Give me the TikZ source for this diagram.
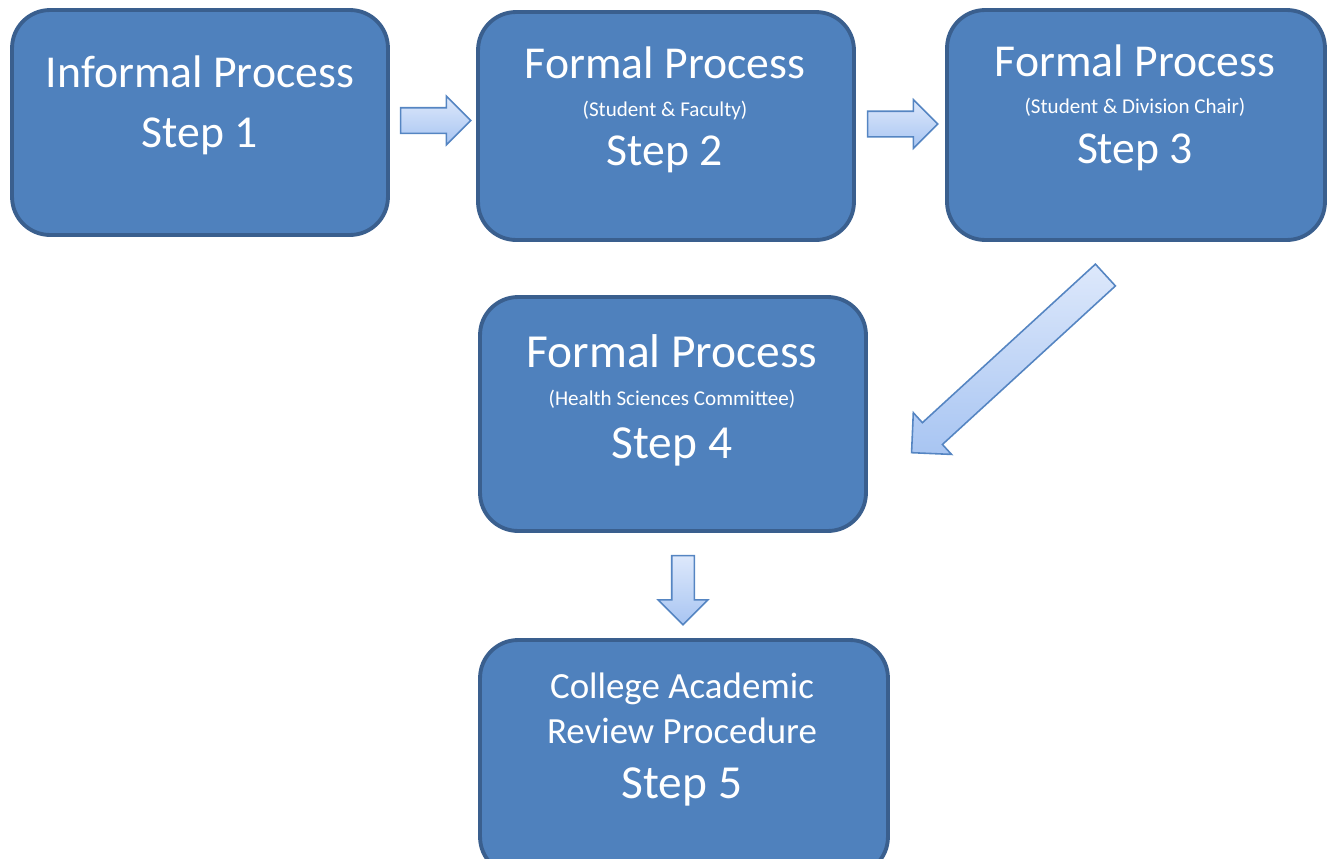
\documentclass[tikz,border=0pt]{standalone}
\usepackage{fontspec}
\setmainfont{Carlito}
\usetikzlibrary{shapes.arrows,positioning,calc}

\definecolor{boxfill}{HTML}{4F81BD}
\definecolor{boxline}{HTML}{3A5F8E}
\definecolor{arrowtop}{HTML}{DDE8FB}
\definecolor{arrowbot}{HTML}{A8C5F2}
\definecolor{arrowline}{HTML}{5585C2}

\tikzset{
  stepbox/.style={draw=boxline,fill=boxfill,line width=2.2pt,
    rounded corners=0.76cm,inner sep=0pt},
  bigtxt/.style={text=white,anchor=base,inner sep=0pt,
    font=\fontsize{26}{31}\selectfont},
  hugetxt/.style={text=white,anchor=base,inner sep=0pt,
    font=\fontsize{27}{32}\selectfont},
  midtxt/.style={text=white,anchor=base,inner sep=0pt,
    font=\fontsize{21}{25}\selectfont},
  smalltxt/.style={text=white,anchor=base,inner sep=0pt,
    font=\fontsize{12}{14}\selectfont},
  blockarrow/.style={single arrow,draw=arrowline,line width=0.9pt,
    top color=arrowtop,bottom color=arrowbot,anchor=tail,
    inner xsep=0pt,minimum width=0pt,single arrow tip angle=90}
}

\begin{document}
\begin{tikzpicture}[x=0.02cm,y=0.02cm]
\useasboundingbox (0,0) rectangle (1330,-859);
% Step 1
\node[stepbox,minimum width=7.52cm,minimum height=4.5cm] (s1) at (200,-122.5) {};
\node[bigtxt] (s1a) at (200,-87) {Informal Process};
\node[bigtxt] (s1b) at (200,-147) {Step 1};
% Step 2
\node[stepbox,minimum width=7.52cm,minimum height=4.56cm] (s2) at (666,-126) {};
\node[bigtxt] (s2a) at (665,-78) {Formal Process};
\node[smalltxt] (s2b) at (665,-116) {(Student \& Faculty)};
\node[bigtxt] (s2c) at (665,-165) {Step 2};
% Step 3
\node[stepbox,minimum width=7.56cm,minimum height=4.6cm] (s3) at (1136,-125) {};
\node[bigtxt] (s3a) at (1135,-76) {Formal Process};
\node[smalltxt] (s3b) at (1135,-113) {(Student \& Division Chair)};
\node[bigtxt] (s3c) at (1135,-163) {Step 3};
% Step 4
\node[stepbox,minimum width=7.72cm,minimum height=4.68cm] (s4) at (673,-414) {};
\node[hugetxt] (s4a) at (672,-367) {Formal Process};
\node[smalltxt] (s4b) at (672,-405) {(Health Sciences Committee)};
\node[hugetxt] (s4c) at (672,-458) {Step 4};
% Step 5
\node[stepbox,minimum width=8.16cm,minimum height=4.7cm] (s5) at (684,-757.5) {};
\node[midtxt] (s5a) at (682,-698) {College Academic};
\node[midtxt] (s5b) at (682,-743) {Review Procedure};
\node[hugetxt] (s5c) at (682,-798) {Step 5};
% arrows
\node[blockarrow,minimum height=1.4cm,inner ysep=0.24cm,
  single arrow head extend=0.23cm] (a12) at ($(s1.east)+(10,2)$) {};
\node[blockarrow,minimum height=1.4cm,inner ysep=0.24cm,
  single arrow head extend=0.23cm] (a23) at ($(s2.east)+(11,2)$) {};
\node[blockarrow,minimum height=5.26cm,inner ysep=0.28cm,
  single arrow head extend=0.27cm,rotate=222.5] (a34) at (1106,-274.5) {};
\node[blockarrow,minimum height=1.38cm,inner ysep=0.21cm,
  single arrow head extend=0.27cm,rotate=-90] (a45) at ($(s4.south)+(10,-22)$) {};
\end{tikzpicture}
\end{document}
